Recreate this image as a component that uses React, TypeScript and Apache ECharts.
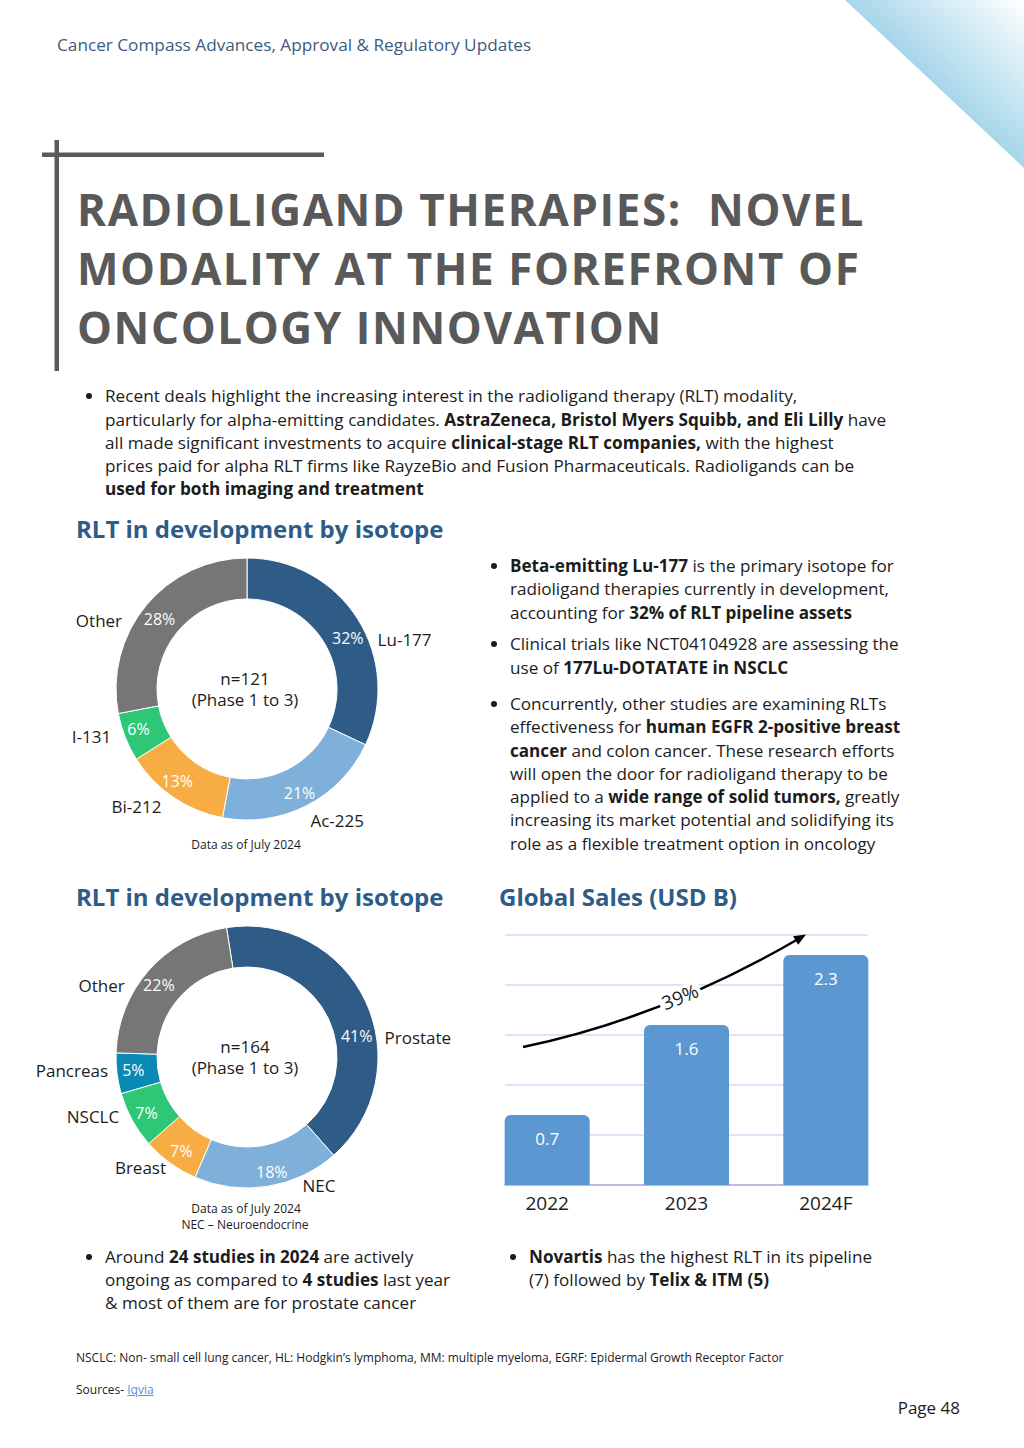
import React, { useEffect, useRef } from "react";
import * as echarts from "echarts";

const FONT = "'Open Sans', 'Noto Sans', sans-serif";

// ---------- data ----------
const isotopeNames = ["Lu-177", "Ac-225", "Bi-212", "I-131", "Other"];
const isotopeShares = [32, 21, 13, 6, 28];
const cancerNames = ["Prostate", "NEC", "Breast", "NSCLC", "Pancreas", "Other"];
const cancerShares = [41, 18, 7, 7, 5, 22];
const salesYears = ["2022", "2023", "2024F"];
const salesValues = [0.7, 1.6, 2.3];
const salesAxisMin = 0;
const salesAxisMax = 2.5;
const salesAxisStep = 0.5;
const cagrLabel = "39%";

// ---------- styles ----------
const isotopeColors = ["#2e5c87", "#7eb0da", "#f8ad44", "#2ec775", "#767676"];
const cancerColors = ["#2e5c87", "#7eb0da", "#f8ad44", "#2ec775", "#0b89b5", "#767676"];
// label fine-tuning offsets (layout only)
const isoNameOff = [[20, 21], [4, 15], [-12, 9], [-14, -1], [-24, 15]];
const isoPctOff = [[5, 10], [1, 3], [-6, -2], [-3, -2], [0, 2]];
const canNameOff = [[19, 36], [35, -1], [-4, 5], [-13, -4], [-9, -3], [-24, 15]];
const canPctOff = [[7, 27], [7, 3], [1, 2], [-1, 1], [-1, -1], [-3, 3]];

const HEAD = "#2e5c87";
const INK = "#1c1c1c";

function topFor(baseline: number, f: number, L: number) {
  return baseline - L / 2 - 0.388 * f;
}

type BlockProps = {
  x: number;
  baseline: number;
  f: number;
  L: number;
  lines: React.ReactNode[];
  bullet?: boolean;
  color?: string;
  weight?: number;
  spacing?: number;
  align?: "left" | "right";
};

function Block({ x, baseline, f, L, lines, bullet, color, weight, spacing, align }: BlockProps) {
  const t = topFor(baseline, f, L);
  const style: React.CSSProperties = {
    position: "absolute",
    top: t,
    fontFamily: FONT,
    fontSize: f,
    lineHeight: L + "px",
    color: color || INK,
    fontWeight: weight || 400,
    letterSpacing: spacing ? spacing + "px" : undefined,
    whiteSpace: "nowrap",
  };
  if (align === "right") style.right = 1024 - x;
  else style.left = x;
  return (
    <>
      {bullet && (
        <div
          style={{
            position: "absolute",
            left: x - 19,
            top: baseline - 6.5 - 3,
            width: 6,
            height: 6,
            borderRadius: 3,
            background: INK,
          }}
        />
      )}
      <div style={style}>
        {lines.map((l, i) => (
          <div key={i} style={{ height: L }}>
            {l}
          </div>
        ))}
      </div>
    </>
  );
}

function arrowHead(tip: [number, number], from: [number, number], len: number, half: number) {
  const dx = tip[0] - from[0];
  const dy = tip[1] - from[1];
  const d = Math.hypot(dx, dy);
  const ux = dx / d;
  const uy = dy / d;
  const bx = tip[0] - ux * len;
  const by = tip[1] - uy * len;
  return [
    [tip[0], tip[1]],
    [bx - uy * half, by + ux * half],
    [bx + uy * half, by - ux * half],
  ];
}

function centerText(x: number, y: number, text: string, size: number) {
  return {
    type: "text",
    x,
    y,
    style: { text, fontSize: size, fill: INK, align: "center", verticalAlign: "middle", fontFamily: FONT },
  };
}

export default function App() {
  const ref = useRef<HTMLDivElement>(null);

  useEffect(() => {
    if (!ref.current) return;
    const chart = echarts.init(ref.current, undefined, { renderer: "svg" });

    const pieBase = (center: [number, number], startAngle: number) => ({
      type: "pie",
      center,
      radius: [90, 131],
      startAngle,
      clockwise: true,
      avoidLabelOverlap: false,
      silent: true,
      emphasis: { disabled: true },
    });

    const arrowStart: [number, number] = [523, 1047];
    const arrowCtrl: [number, number] = [663, 1018];
    const arrowEnd: [number, number] = [800, 938];

    const option: any = {
      animation: false,
      textStyle: { fontFamily: FONT },
      grid: [
        { left: 505, top: 935, width: 363, height: 250 },
        { left: 477.5, top: 935, width: 418, height: 250 },
      ],
      xAxis: [
        {
          type: "category",
          gridIndex: 0,
          data: salesYears,
          axisLine: { lineStyle: { color: "#b9a8de", width: 1.5 } },
          axisTick: { show: false },
          axisLabel: { show: false },
        },
        {
          type: "category",
          gridIndex: 1,
          data: salesYears,
          axisLine: { show: false },
          axisTick: { show: false },
          axisLabel: { fontSize: 19, color: INK, margin: 8, fontFamily: FONT },
        },
      ],
      yAxis: [
        {
          type: "value",
          gridIndex: 0,
          min: salesAxisMin,
          max: salesAxisMax,
          interval: salesAxisStep,
          axisLine: { show: false },
          axisTick: { show: false },
          axisLabel: { show: false },
          splitLine: { lineStyle: { color: "#dcd6f2", width: 1.5 } },
        },
        {
          type: "value",
          gridIndex: 1,
          min: salesAxisMin,
          max: salesAxisMax,
          interval: salesAxisStep,
          show: false,
          splitLine: { show: false },
        },
      ],
      series: [
        {
          type: "bar",
          xAxisIndex: 1,
          yAxisIndex: 1,
          data: salesValues,
          barWidth: 85,
          silent: true,
          itemStyle: { color: "#5b97d0", borderRadius: [6, 6, 0, 0] },
          label: {
            show: true,
            position: "insideTop",
            distance: 15,
            color: "#ffffff",
            fontSize: 17,
            fontFamily: FONT,
          },
        },
        // donut 1 – coloured ring with % labels
        {
          ...pieBase([247, 689], 90),
          data: isotopeNames.map((n, i) => ({ name: n, value: isotopeShares[i] })),
          color: isotopeColors,
          itemStyle: { borderColor: "#ffffff", borderWidth: 1 },
          label: { show: true, position: "inside", formatter: "{c}%", color: "#ffffff", fontSize: 16, fontFamily: FONT },
          labelLine: { show: false },
          labelLayout: (p: any) => ({ dx: isoPctOff[p.dataIndex][0], dy: isoPctOff[p.dataIndex][1] }),
        },
        // donut 1 – category names outside
        {
          ...pieBase([247, 689], 90),
          data: isotopeNames.map((n, i) => ({ name: n, value: isotopeShares[i] })),
          itemStyle: { color: "rgba(0,0,0,0)", borderWidth: 0 },
          label: { show: true, position: "outside", formatter: "{b}", color: INK, fontSize: 17, fontFamily: FONT, distanceToLabelLine: 0 },
          labelLine: { show: false, length: 0, length2: 0 },
          labelLayout: (p: any) => ({ dx: isoNameOff[p.dataIndex][0], dy: isoNameOff[p.dataIndex][1] }),
        },
        // donut 2
        {
          ...pieBase([247, 1057], 99),
          data: cancerNames.map((n, i) => ({ name: n, value: cancerShares[i] })),
          color: cancerColors,
          itemStyle: { borderColor: "#ffffff", borderWidth: 1 },
          label: { show: true, position: "inside", formatter: "{c}%", color: "#ffffff", fontSize: 16, fontFamily: FONT },
          labelLine: { show: false },
          labelLayout: (p: any) => ({ dx: canPctOff[p.dataIndex][0], dy: canPctOff[p.dataIndex][1] }),
        },
        {
          ...pieBase([247, 1057], 99),
          data: cancerNames.map((n, i) => ({ name: n, value: cancerShares[i] })),
          itemStyle: { color: "rgba(0,0,0,0)", borderWidth: 0 },
          label: { show: true, position: "outside", formatter: "{b}", color: INK, fontSize: 17, fontFamily: FONT, distanceToLabelLine: 0 },
          labelLine: { show: false, length: 0, length2: 0 },
          labelLayout: (p: any) => ({ dx: canNameOff[p.dataIndex][0], dy: canNameOff[p.dataIndex][1] }),
        },
      ],
      graphic: [
        {
          type: "polygon",
          shape: { points: [[845, 0], [1024, 0], [1024, 168]] },
          style: {
            fill: new echarts.graphic.LinearGradient(0, 1, 1, 0, [
              { offset: 0.5, color: "#a6d6ea" },
              { offset: 1, color: "#ffffff" },
            ]),
          },
        },
        { type: "rect", shape: { x: 42, y: 152.5, width: 282, height: 4.5 }, style: { fill: "#5a5a5a" } },
        { type: "rect", shape: { x: 54.5, y: 140, width: 4.5, height: 231 }, style: { fill: "#5a5a5a" } },
        centerText(245, 678.5, "n=121", 17),
        centerText(245, 699.5, "(Phase 1 to 3)", 17),
        centerText(246, 844, "Data as of July 2024", 12),
        centerText(245, 1046.5, "n=164", 17),
        centerText(245, 1067.5, "(Phase 1 to 3)", 17),
        centerText(246, 1208.5, "Data as of July 2024", 12),
        centerText(245, 1224, "NEC – Neuroendocrine", 12),
        {
          type: "bezierCurve",
          z: 10,
          shape: { x1: arrowStart[0], y1: arrowStart[1], x2: arrowEnd[0], y2: arrowEnd[1], cpx1: arrowCtrl[0], cpy1: arrowCtrl[1] },
          style: { stroke: "#000000", lineWidth: 2.5, fill: null },
        },
        {
          type: "polygon",
          z: 10,
          shape: { points: arrowHead([806, 934.5], arrowCtrl, 12, 5) },
          style: { fill: "#000000" },
        },
        {
          type: "text",
          z: 11,
          x: 680,
          y: 997,
          rotation: 0.39,
          style: {
            text: cagrLabel,
            fontSize: 19,
            fill: INK,
            align: "center",
            verticalAlign: "middle",
            fontFamily: FONT,
            backgroundColor: "#ffffff",
            padding: [0, 3],
          },
        },
      ],
    };

    chart.setOption(option);
    return () => chart.dispose();
  }, []);

  const b = (s: string) => <b style={{ fontWeight: 700 }}>{s}</b>;

  return (
    <div style={{ position: "absolute", left: 0, top: 0, width: 1024, height: 1448, background: "#ffffff", overflow: "hidden" }}>
      <div ref={ref} style={{ position: "absolute", left: 0, top: 0, width: 1024, height: 1448 }} />

      <Block x={57} baseline={50.7} f={17.2} L={23} color="#3d5b7d" lines={["Cancer Compass Advances, Approval & Regulatory Updates"]} />

      <Block
        x={77}
        baseline={226.7}
        f={44}
        L={59}
        color="#595959"
        weight={700}
        spacing={1.6}
        lines={["RADIOLIGAND THERAPIES:\u00a0 NOVEL", "MODALITY AT THE FOREFRONT OF", "ONCOLOGY INNOVATION"]}
      />

      <Block
        x={105}
        baseline={402.7}
        f={17.2}
        L={23.25}
        bullet
        lines={[
          "Recent deals highlight the increasing interest in the radioligand therapy (RLT) modality,",
          <>particularly for alpha-emitting candidates. {b("AstraZeneca, Bristol Myers Squibb, and Eli Lilly")} have</>,
          <>all made significant investments to acquire {b("clinical-stage RLT companies,")} with the highest</>,
          "prices paid for alpha RLT firms like RayzeBio and Fusion Pharmaceuticals. Radioligands can be",
          b("used for both imaging and treatment"),
        ]}
      />

      <Block x={76} baseline={538.3} f={24} L={32} color={HEAD} weight={700} lines={["RLT in development by isotope"]} />
      <Block x={76} baseline={906.3} f={24} L={32} color={HEAD} weight={700} lines={["RLT in development by isotope"]} />
      <Block x={499} baseline={906.3} f={24} L={32} color={HEAD} weight={700} lines={["Global Sales (USD B)"]} />

      <Block
        x={510}
        baseline={572.5}
        f={17.1}
        L={23.25}
        bullet
        lines={[
          <>{b("Beta-emitting Lu-177")} is the primary isotope for</>,
          "radioligand therapies currently in development,",
          <>accounting for {b("32% of RLT pipeline assets")}</>,
        ]}
      />
      <Block
        x={510}
        baseline={650.7}
        f={17.1}
        L={23.25}
        bullet
        lines={["Clinical trials like NCT04104928 are assessing the", <>use of {b("177Lu-DOTATATE in NSCLC")}</>]}
      />
      <Block
        x={510}
        baseline={710.5}
        f={17.1}
        L={23.25}
        bullet
        lines={[
          "Concurrently, other studies are examining RLTs",
          <>effectiveness for {b("human EGFR 2-positive breast")}</>,
          <>{b("cancer")} and colon cancer. These research efforts</>,
          "will open the door for radioligand therapy to be",
          <>applied to a {b("wide range of solid tumors,")} greatly</>,
          "increasing its market potential and solidifying its",
          "role as a flexible treatment option in oncology",
        ]}
      />

      <Block
        x={105}
        baseline={1263.3}
        f={17.1}
        L={23}
        bullet
        lines={[
          <>Around {b("24 studies in 2024")} are actively</>,
          <>ongoing as compared to {b("4 studies")} last year</>,
          "& most of them are for prostate cancer",
        ]}
      />
      <Block
        x={529}
        baseline={1263.3}
        f={17.1}
        L={23}
        bullet
        lines={[<>{b("Novartis")} has the highest RLT in its pipeline</>, <>(7) followed by {b("Telix & ITM (5)")}</>]}
      />

      <Block
        x={76}
        baseline={1362.7}
        f={12}
        L={16}
        lines={["NSCLC: Non- small cell lung cancer, HL: Hodgkin’s lymphoma, MM: multiple myeloma, EGRF: Epidermal Growth Receptor Factor"]}
      />
      <Block
        x={76}
        baseline={1395}
        f={12}
        L={16}
        lines={[<>Sources- <span style={{ color: "#5b8fd0", textDecoration: "underline" }}>Iqvia</span></>]}
      />
      <Block x={960} baseline={1414} f={17} L={23} align="right" lines={["Page 48"]} />
    </div>
  );
}
